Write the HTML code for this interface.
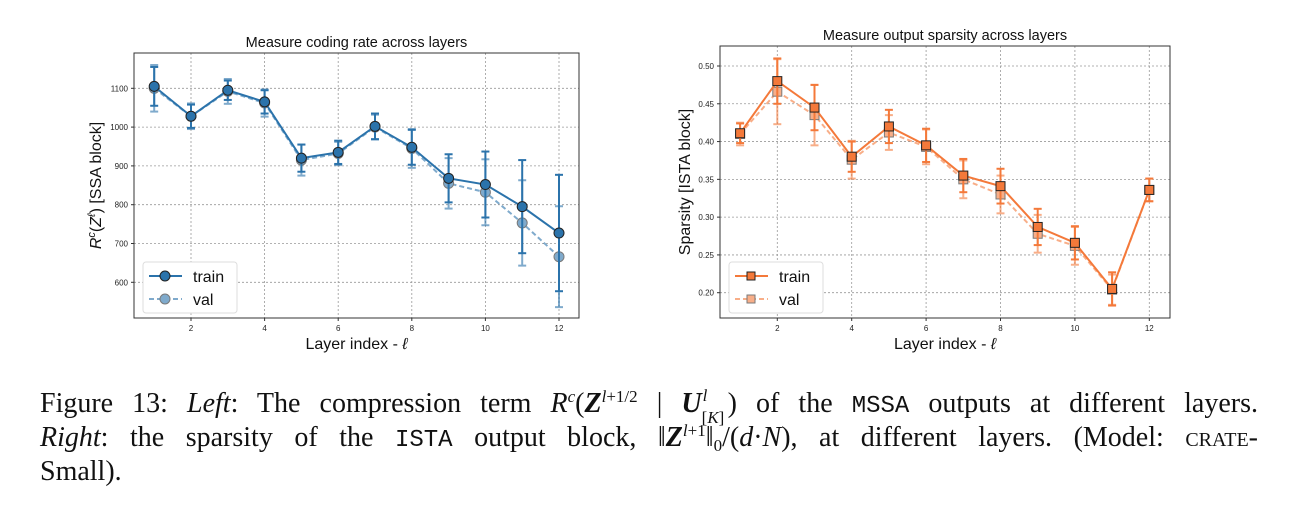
<!DOCTYPE html>
<html><head><meta charset="utf-8"><style>
body{margin:0;background:#fff;width:1292px;height:511px;overflow:hidden;position:relative;font-family:"Liberation Sans",sans-serif}
svg{position:absolute;left:0;top:0}
.cap{position:absolute;left:40px;width:1218px;font-family:"Liberation Serif",serif;font-size:28px;color:#111;white-space:nowrap;line-height:32px}
.j{text-align:justify;text-align-last:justify}
.tt{font-family:"Liberation Mono",monospace;font-size:24px}
.s{font-size:17px;vertical-align:0.6em;line-height:0}
.b{font-size:17px;vertical-align:-0.3em;line-height:0}
</style></head><body>
<svg id="chart" width="1292" height="380"></svg>
<div class="cap j" style="top:388px">Figure 13: <i>Left</i>: The compression term <i>R</i><span class="s"><i>c</i></span>(<b><i>Z</i></b><span class="s"><i>l</i>+1/2</span> | <b><i>U</i></b><span style="display:inline-block;line-height:0;font-size:17px;position:relative;width:26px"><span style="position:absolute;top:-16px;left:1px"><i>l</i></span><span style="position:absolute;top:6px;left:0">[<i>K</i>]</span></span>) of the <span class="tt">MSSA</span> outputs at different layers.</div>
<div class="cap j" style="top:422px"><i>Right</i>: the sparsity of the <span class="tt">ISTA</span> output block, ‖<b><i>Z</i></b><span class="s"><i>l</i>+1</span>‖<span class="b">0</span>/(<i>d</i>·<i>N</i>), at different layers. (Model: <span style="font-variant:small-caps">crate</span>-</div>
<div class="cap" style="top:456px">Small).</div>
<script>
const layers=[1,2,3,4,5,6,7,8,9,10,11,12];
const crTrain=[1105,1028,1095,1065,920,935,1002,948,868,852,795,727];
const crTrainErr=[50,30,25,30,35,30,33,45,62,85,120,150];
const crVal=[1100,1028,1092,1062,915,932,1000,945,855,832,753,666];
const crValErr=[60,33,32,35,40,30,32,50,65,85,110,130];
const crTicks=[600,700,800,900,1000,1100];
const spTrain=[.411,.480,.445,.380,.420,.395,.355,.341,.287,.266,.205,.336];
const spTrainErr=[.013,.03,.03,.02,.022,.022,.022,.023,.024,.022,.022,.015];
const spVal=[.410,.466,.435,.376,.412,.393,.350,.330,.278,.262,.204,.336];
const spValErr=[.015,.043,.04,.025,.023,.023,.025,.025,.025,.025,.02,.015];
const spTicks=[0.20,0.25,0.30,0.35,0.40,0.45,0.50];
const xTicks=[2,4,6,8,10,12];
const svg=document.getElementById('chart');
const NS='http://www.w3.org/2000/svg';
function mk(tag,a,parent){const e=document.createElementNS(NS,tag);for(const k in a)e.setAttribute(k,a[k]);(parent||svg).appendChild(e);return e;}
function panel(o){
  const g=mk('g',{});
  
  
  const X=v=>o.x0+(v-o.xa)*(o.x1-o.x0)/(o.xb-o.xa);
  const Y=v=>o.y0+(v-o.ya)*(o.y1-o.y0)/(o.yb-o.ya);
  xTicks.forEach(t=>{const l=mk('line',{x1:X(t),x2:X(t),y1:o.T,y2:o.B,stroke:'#999','stroke-dasharray':'2,2','stroke-width':0.8},g);
    const tx=mk('text',{x:X(t),y:o.B+13,'font-size':8,'text-anchor':'middle',fill:'#222'},g);tx.textContent=t;
    mk('line',{x1:X(t),x2:X(t),y1:o.B,y2:o.B+3,stroke:'#333'},g);});
  o.ticks.forEach(t=>{const l=mk('line',{x1:o.L,x2:o.R,y1:Y(t),y2:Y(t),stroke:'#999','stroke-dasharray':'2,2','stroke-width':0.8},g);
    const tx=mk('text',{x:o.L-6,y:Y(t)+3,'font-size':8,'text-anchor':'end',fill:'#222'},g);tx.textContent=o.fmt(t);
    mk('line',{x1:o.L-3,x2:o.L,y1:Y(t),y2:Y(t),stroke:'#333'},g);});
  const fr=mk('rect',{x:o.L,y:o.T,width:o.R-o.L,height:o.B-o.T,fill:'none',stroke:'#333','stroke-width':1},g);
  
  function series(vals,errs,col,op,dash,nm){
    const sg=mk('g',{opacity:op},g);
    
    
    vals.forEach((v,i)=>{const x=X(layers[i]);
      mk('line',{x1:x,x2:x,y1:Y(v-errs[i]),y2:Y(v+errs[i]),stroke:col,'stroke-width':2},sg);
      [v-errs[i],v+errs[i]].forEach(w=>mk('line',{x1:x-4,x2:x+4,y1:Y(w),y2:Y(w),stroke:col,'stroke-width':2},sg));});
    const p=mk('polyline',{points:vals.map((v,i)=>X(layers[i])+','+Y(v)).join(' '),fill:'none',stroke:col,'stroke-width':2,'stroke-dasharray':dash},sg);
    
    vals.forEach((v,i)=>{const x=X(layers[i]),y=Y(v);let m;
      if(o.marker==='o')m=mk('circle',{cx:x,cy:y,r:5,fill:col,stroke:'#222','stroke-width':1},sg);
      else m=mk('rect',{x:x-4.5,y:y-4.5,width:9,height:9,fill:col,stroke:'#222','stroke-width':1},sg);
      });
  }
  series(o.val,o.valErr,o.col,0.6,'5,3',o.name+'-val');
  series(o.train,o.trainErr,o.col,1,'',o.name+'-train');
  const t=mk('text',{x:(o.L+o.R)/2,y:o.T-6,'font-size':14.5,'text-anchor':'middle',fill:'#111'},g);t.textContent=o.title;
  
  const xl=mk('text',{x:(o.L+o.R)/2,y:o.B+31,'font-size':16,'text-anchor':'middle',fill:'#111'},g);xl.innerHTML='Layer index - <tspan font-style="italic">ℓ</tspan>';
  
  const yl=mk('text',{x:0,y:0,'font-size':16,'text-anchor':'middle',fill:'#111',transform:`translate(${o.ylx},${(o.T+o.B)/2}) rotate(-90)`},g);yl.innerHTML=o.ylab;
  
  const lx=o.L+9,ly=o.B-56;
  const lg=mk('g',{},g);
  mk('rect',{x:lx,y:ly,width:94,height:51,fill:'#fff',stroke:'#ddd',rx:3},lg);
  [['train',1,''],['val',0.6,'5,3']].forEach((e,k)=>{const yy=ly+14+k*23;const eg=mk('g',{opacity:e[1]},lg);
    
    mk('line',{x1:lx+6,x2:lx+39,y1:yy,y2:yy,stroke:o.col,'stroke-width':2,'stroke-dasharray':e[2]},eg);
    if(o.marker==='o')mk('circle',{cx:lx+22,cy:yy,r:5,fill:o.col,stroke:'#222'},eg);else mk('rect',{x:lx+18,y:yy-4,width:8,height:8,fill:o.col,stroke:'#222'},eg);
    const tx=mk('text',{x:lx+50,y:yy+6,'font-size':16,fill:'#111'},lg);tx.textContent=e[0];});
}
panel({name:'coding-rate-chart',L:134,R:579,T:53,B:318,x0:191,x1:559,xa:2,xb:12,y0:88.3,y1:282.3,ya:1100,yb:600,
  ticks:crTicks,fmt:t=>String(t),train:crTrain,trainErr:crTrainErr,val:crVal,valErr:crValErr,col:'#2b73ab',marker:'o',
  title:'Measure coding rate across layers',ylx:101,ylab:'<tspan font-style="italic">R</tspan><tspan font-size="11" dy="-6" font-style="italic">c</tspan><tspan dy="6">(</tspan><tspan font-style="italic">Z</tspan><tspan font-size="11" dy="-6" font-style="italic">ℓ</tspan><tspan dy="6">) [SSA block]</tspan>'});
panel({name:'sparsity-chart',L:720,R:1170,T:46,B:318,x0:777.3,x1:1149.3,xa:2,xb:12,y0:66,y1:292.7,ya:0.5,yb:0.2,
  ticks:spTicks,fmt:t=>t.toFixed(2),train:spTrain,trainErr:spTrainErr,val:spVal,valErr:spValErr,col:'#f4793a',marker:'s',
  title:'Measure output sparsity across layers',ylx:690,ylab:'Sparsity [ISTA block]'});
</script>
</body></html>
